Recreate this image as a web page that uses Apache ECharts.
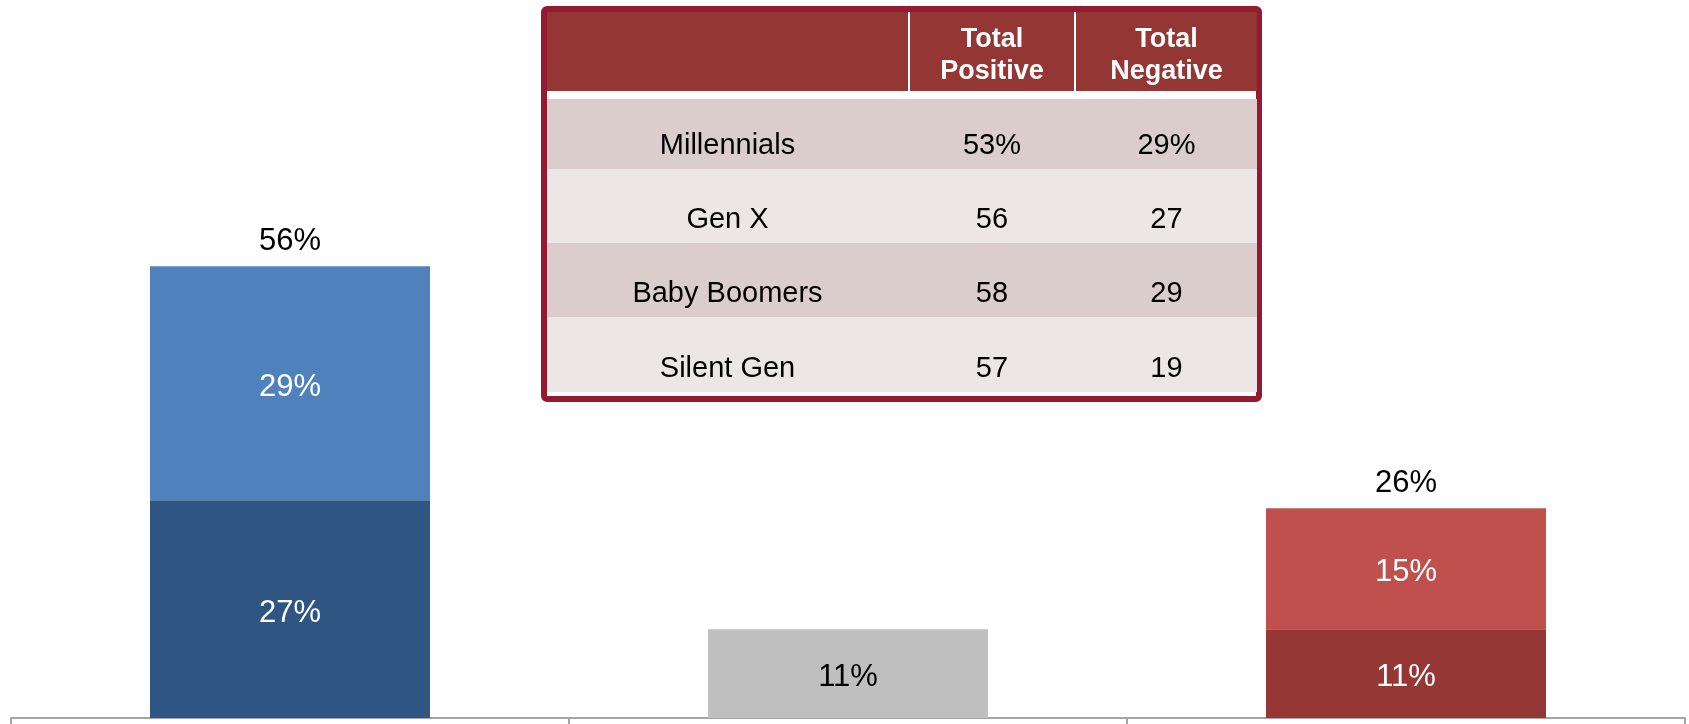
<!DOCTYPE html>
<html>
<head>
<meta charset="utf-8">
<script src="https://cdn.jsdelivr.net/npm/echarts@6/dist/echarts.min.js"></script>
<style>
html,body{margin:0;padding:0;background:#fff;}
#chart{width:1689px;height:724px;}
</style>
</head>
<body>
<div id="chart"></div>
<script>
// ---- data ----
const categories = ['Positive', 'Neutral', 'Negative'];
const baseValues = [27, 11, 11];
const topValues = [29, null, 15];
const totals = [56, null, 26];
const baseColors = ['#2f5682', '#bfbfbf', '#953735'];
const topColors = ['#4f81bd', null, '#c0504d'];
const baseLabelColors = ['#ffffff', '#000000', '#ffffff'];

const tableHeaders = ['', 'Total\nPositive', 'Total\nNegative'];
const tableGroups = ['Millennials', 'Gen X', 'Baby Boomers', 'Silent Gen'];
const tablePositive = ['53%', '56', '58', '57'];
const tableNegative = ['29%', '27', '29', '19'];

const FONT = '"Liberation Sans", Arial, sans-serif';

// ---- table layout (graphic) ----
const colEdges = [547, 908, 910, 1074, 1076, 1257];
const colCenters = [727.5, 992, 1166.5];
const rowEdges = [99, 169, 243, 317, 392];
const rowFills = ['#dccdcd', '#ede6e6'];
const graphics = [];
graphics.push({
  type: 'rect', shape: {x: 544, y: 9, width: 715, height: 390, r: 3},
  style: {fill: '#ffffff', stroke: '#941a31', lineWidth: 6}, z: 10
});
for (let c = 0; c < 3; c++) {
  graphics.push({
    type: 'rect', shape: {x: colEdges[c * 2], y: 12, width: colEdges[c * 2 + 1] - colEdges[c * 2], height: 79},
    style: {fill: '#943634'}, z: 11
  });
  if (tableHeaders[c]) {
    graphics.push({
      type: 'text', x: colCenters[c], y: 56, z: 12,
      style: {text: tableHeaders[c], fill: '#ffffff', font: 'bold 27px ' + FONT,
        align: 'center', verticalAlign: 'middle', lineHeight: 32}
    });
  }
}
const cols = [tableGroups, tablePositive, tableNegative];
for (let r = 0; r < tableGroups.length; r++) {
  graphics.push({
    type: 'rect', shape: {x: 547, y: rowEdges[r], width: 710, height: rowEdges[r + 1] - rowEdges[r]},
    style: {fill: rowFills[r % 2]}, z: 11
  });
  const cy = rowEdges[r + 1] - 23;
  for (let c = 0; c < 3; c++) {
    graphics.push({
      type: 'text', x: colCenters[c], y: cy, z: 12,
      style: {text: cols[c][r], fill: '#000000', font: '29px ' + FONT,
        align: 'center', verticalAlign: 'middle'}
    });
  }
}

const chart = echarts.init(document.getElementById('chart'));
chart.setOption({
  animation: false,
  backgroundColor: '#ffffff',
  grid: {left: 11, right: 4, top: 0, bottom: 6, containLabel: false},
  xAxis: {
    type: 'category', data: categories,
    axisLine: {lineStyle: {color: '#a5a5a5', width: 2}},
    axisTick: {show: true, length: 6, interval: 0, lineStyle: {color: '#a5a5a5', width: 2}},
    axisLabel: {show: false},
    splitLine: {show: false}
  },
  yAxis: {type: 'value', min: 0, max: 89, show: false, splitLine: {show: false}},
  series: [
    {
      type: 'bar', stack: 'total', barWidth: 280,
      data: baseValues.map((v, i) => ({
        value: v, itemStyle: {color: baseColors[i]},
        label: {color: baseLabelColors[i]}
      })),
      label: {show: true, position: 'inside', offset: [0, 4], fontSize: 31, fontFamily: FONT, formatter: '{c}%'}
    },
    {
      type: 'bar', stack: 'total', barWidth: 280,
      data: topValues.map((v, i) => ({value: v, itemStyle: {color: topColors[i] || '#fff'}})),
      label: {show: true, position: 'inside', offset: [0, 4], fontSize: 31, fontFamily: FONT, color: '#ffffff', formatter: '{c}%'}
    },
    {
      type: 'scatter', symbolSize: 0, silent: true,
      itemStyle: {opacity: 1, color: 'rgba(0,0,0,0)'},
      data: totals,
      label: {show: true, position: 'top', distance: 9, fontSize: 31, fontFamily: FONT, color: '#000000', opacity: 1, formatter: '{c}%'}
    }
  ],
  graphic: graphics
});
</script>
</body>
</html>
